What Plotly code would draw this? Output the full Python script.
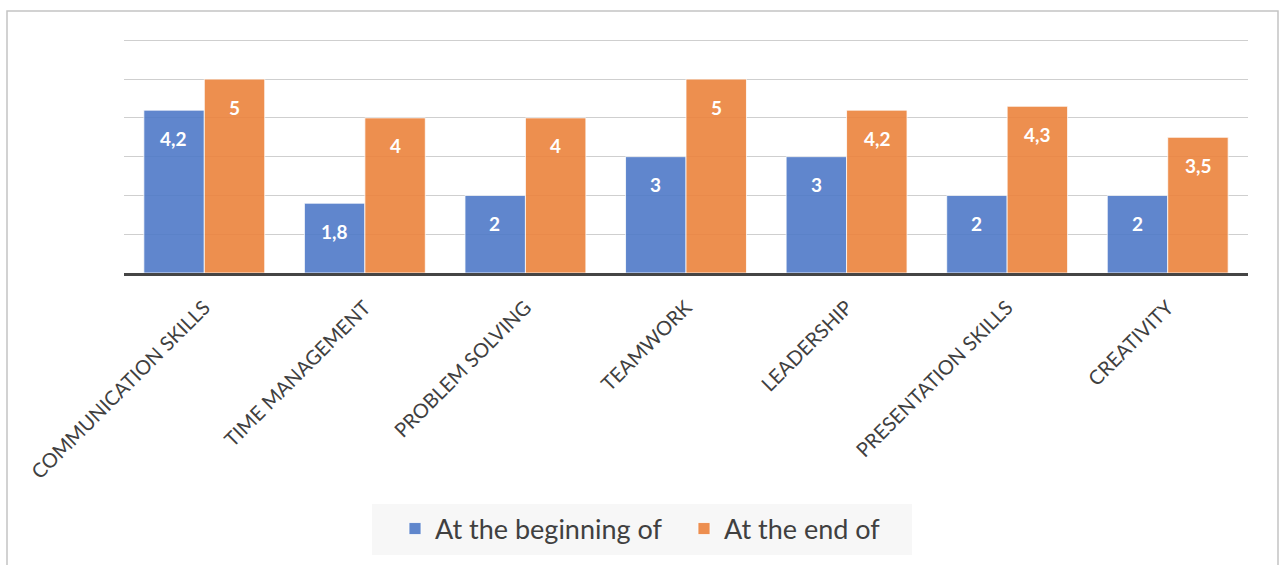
import plotly.graph_objects as go

# Skill self-assessment scores, start vs. end of the programme
categories = ["COMMUNICATION SKILLS", "TIME MANAGEMENT", "PROBLEM SOLVING",
              "TEAMWORK", "LEADERSHIP", "PRESENTATION SKILLS", "CREATIVITY"]
beginning = [4.2, 1.8, 2, 3, 3, 2, 2]
end = [5, 4, 4, 5, 4.2, 4.3, 3.5]
series_names = ["At the beginning of", "At the end of"]

BLUE = "rgb(79,122,200)"
ORANGE = "rgb(236,131,61)"
FONT = "Lato"

x_idx = list(range(len(categories)))

fig = go.Figure()
for name, vals, col in [(series_names[0], beginning, BLUE), (series_names[1], end, ORANGE)]:
    fig.add_trace(go.Bar(
        x=x_idx, y=vals, name=name,
        marker=dict(color=col, line=dict(color="rgba(255,255,255,0.8)", width=1)),
        opacity=0.9,
    ))


def fmt(v):
    return str(v).replace(".", ",")


# value labels near the top of each bar
annotations = []
for i in x_idx:
    for vals, dx in [(beginning, -0.19), (end, 0.19)]:
        annotations.append(dict(
            x=i + dx, y=vals[i], xref="x", yref="y",
            text="<b>%s</b>" % fmt(vals[i]), showarrow=False,
            yshift=-28, yanchor="middle",
            font=dict(family=FONT, size=19, color="white"),
        ))

L, R, T, B = 124, 31, 38, 292
W, H = 1279, 565
pw, ph = W - L - R, H - T - B


def px_x(p):
    return (p - L) / pw


def px_y(p):
    return (H - B - p) / ph


shapes = [
    # outer chart frame
    dict(type="rect", xref="paper", yref="paper",
         x0=px_x(7), x1=px_x(1278), y0=px_y(600), y1=px_y(11),
         line=dict(color="#c4c4c4", width=1.5), fillcolor="rgba(0,0,0,0)", layer="below"),
    # legend panel
    dict(type="rect", xref="paper", yref="paper",
         x0=px_x(372), x1=px_x(912), y0=px_y(555), y1=px_y(504),
         line=dict(width=0), fillcolor="#f7f7f7", layer="below"),
]

fig.update_layout(
    width=W, height=H,
    margin=dict(l=L, r=R, t=T, b=B),
    paper_bgcolor="white", plot_bgcolor="white",
    barmode="group", bargap=0.247, bargroupgap=0.0,
    font=dict(family=FONT, color="#404040"),
    showlegend=True,
    legend=dict(orientation="h", xref="container", yref="container",
                x=395 / W, xanchor="left", y=1 - 529 / H, yanchor="middle",
                bgcolor="rgba(0,0,0,0)", font=dict(family=FONT, size=27, color="#404040"),
                itemwidth=30, tracegroupgap=0,
                entrywidthmode="pixels", entrywidth=244),
    xaxis=dict(tickmode="array", tickvals=x_idx, ticktext=categories,
               range=[-0.5, len(categories) - 0.5],
               tickangle=-45, tickfont=dict(family=FONT, size=20, color="#404040"),
               showline=True, linecolor="#454545", linewidth=3,
               showgrid=False, ticks="outside", ticklen=12, tickcolor="rgba(0,0,0,0)"),
    yaxis=dict(range=[0, 6.06], tickvals=[1, 2, 3, 4, 5, 6], showticklabels=False,
               showgrid=True, gridcolor="#cfcfcf", gridwidth=1, zeroline=False, ticks=""),
    annotations=annotations,
    shapes=shapes,
)

fig.write_html("out.html")
